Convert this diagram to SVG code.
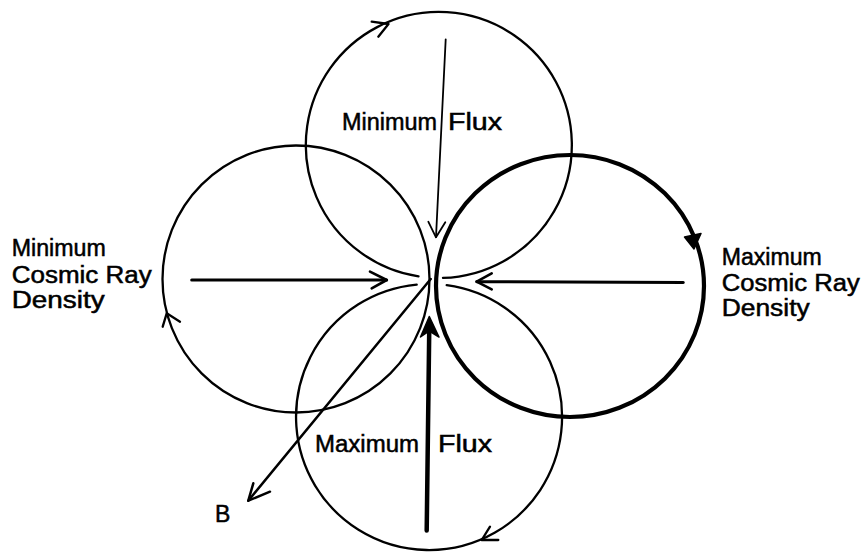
<svg xmlns="http://www.w3.org/2000/svg" width="866" height="552" viewBox="0 0 866 552">
<style>
.c{fill:none;stroke:#000;stroke-width:2.3;stroke-linecap:round;stroke-linejoin:round}
.ck{fill:none;stroke:#000;stroke-width:4.2;stroke-linecap:round;stroke-linejoin:round}
.a{fill:none;stroke:#000;stroke-linecap:round;stroke-linejoin:round}
.t{font-family:"Liberation Sans",Arial,sans-serif;font-size:23px;fill:#000;stroke:#000;stroke-width:0.5}
</style>
<rect width="866" height="552" fill="#fff"/>
<g id="circle-top">
<path class="c" d="M418.5,276.4 A133,133 0 1 1 443,277.9"/>
<polyline class="c" points="371.7,21.7 388.5,24 378.3,36.7"/>
<text class="t" x="342" y="129.5" textLength="95" lengthAdjust="spacingAndGlyphs">Minimum</text>
<text class="t" x="448" y="129.5" textLength="54" lengthAdjust="spacingAndGlyphs">Flux</text>
</g>
<g id="circle-left">
<circle class="c" cx="296" cy="279" r="133.5"/>
<polyline class="c" points="162.7,326.7 166.7,313.3 180,321.7"/>
</g>
<g id="circle-right">
<ellipse class="ck" cx="570" cy="286" rx="134" ry="131"/>
<polygon points="684.5,237 701,233.5 694,249" fill="#000" stroke="#000" stroke-width="1.5" stroke-linejoin="round"/>
</g>
<g id="circle-bottom">
<path class="c" d="M446.7,285.2 A133,133 0 1 1 416.7,284.6"/>
<polyline class="c" points="490,526.7 481.7,540 498.3,540"/>
<text class="t" x="315" y="451.7" textLength="104" lengthAdjust="spacingAndGlyphs">Maximum</text>
<text class="t" x="438" y="451.7" textLength="54" lengthAdjust="spacingAndGlyphs">Flux</text>
</g>
<g id="label-left">
<text class="t" x="11.7" y="256" textLength="94" lengthAdjust="spacingAndGlyphs">Minimum</text>
<text class="t" x="11.7" y="283.3" textLength="140" lengthAdjust="spacingAndGlyphs">Cosmic Ray</text>
<text class="t" x="11.7" y="307.5" textLength="93" lengthAdjust="spacingAndGlyphs">Density</text>
</g>
<g id="label-right">
<text class="t" x="721.7" y="265" textLength="100" lengthAdjust="spacingAndGlyphs">Maximum</text>
<text class="t" x="721.7" y="291" textLength="138" lengthAdjust="spacingAndGlyphs">Cosmic Ray</text>
<text class="t" x="721.7" y="316" textLength="88" lengthAdjust="spacingAndGlyphs">Density</text>
</g>
<g id="label-B">
<text class="t" x="215" y="522">B</text>
</g>
<g id="connectors">
<line class="a" stroke-width="3" x1="191.7" y1="280" x2="386.7" y2="280"/>
<polyline class="a" stroke-width="2.6" points="370,271.7 386.7,280 371.7,288.3"/>
<line class="a" stroke-width="3" x1="683.3" y1="282.5" x2="476.7" y2="281.7"/>
<polyline class="a" stroke-width="2.6" points="491.7,273.3 476.7,281.7 491.7,289.3"/>
<line class="a" stroke-width="1.8" x1="445.7" y1="39.3" x2="436" y2="237"/>
<polyline class="a" stroke-width="1.8" points="428.3,221.7 436,237.3 445.3,222.2"/>
<line class="a" stroke-width="4.5" x1="426.7" y1="530.5" x2="429.3" y2="325"/>
<path d="M429.3,316.5 L420.5,337 L429.3,331 L439,337 Z" fill="#000" stroke="#000" stroke-width="1.5" stroke-linejoin="round"/>
<line class="a" stroke-width="2.5" x1="430.7" y1="279" x2="248.3" y2="500.7"/>
<polyline class="a" stroke-width="2.5" points="270,491.7 248.3,500.7 253.3,483.3"/>
</g>
</svg>
